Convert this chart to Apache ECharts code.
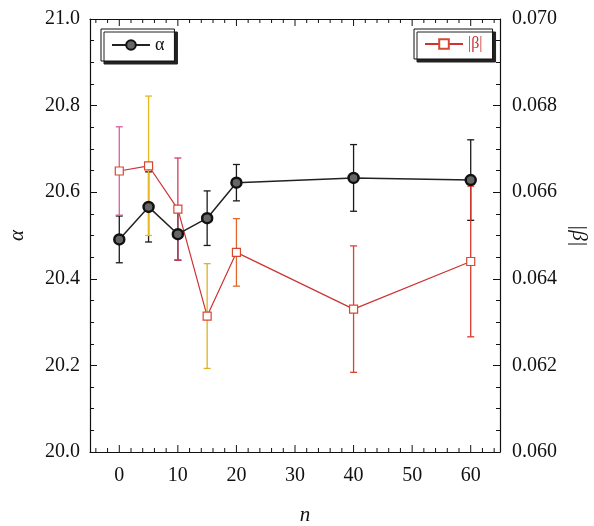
<!DOCTYPE html>
<html>
<head>
<meta charset="utf-8">
<script src="https://cdn.jsdelivr.net/npm/echarts@6/dist/echarts.min.js"></script>
<style>
  html, body { margin: 0; padding: 0; background: #fff; }
  #chart { width: 594px; height: 526px; }
</style>
</head>
<body>
<div id="chart"></div>
<script>
// values
const nValues = [0, 5, 10, 15, 20, 40, 60];
const alpha = [20.491, 20.566, 20.503, 20.540, 20.622, 20.633, 20.628];
const alphaErr = [0.054, 0.081, 0.060, 0.063, 0.042, 0.077, 0.093];
const beta = [0.06649, 0.06661, 0.06561, 0.06314, 0.06461, 0.06330, 0.06440];
const betaErr = [0.00102, 0.00161, 0.00118, 0.00121, 0.00078, 0.00146, 0.00174];
const xMajorTicks = [0, 10, 20, 30, 40, 50, 60];
const xMinorTicks = [-4, -2, 2, 4, 6, 8, 12, 14, 16, 18, 22, 24, 26, 28, 32, 34, 36, 38,
                     42, 44, 46, 48, 52, 54, 56, 58, 62, 64];

const serif = '"Liberation Serif", "DejaVu Serif", serif';
const betaBarColors = ['#d8609a', '#e6b820', '#d83a62', '#e2b024', '#e2672a', '#d8452e', '#d8382a'];

const chart = echarts.init(document.getElementById('chart'));

function errorBar(color, colors) {
    return function (params, api) {
        const x = api.value(0);
        const top = api.coord([x, api.value(2)]);
        const bot = api.coord([x, api.value(1)]);
        const c = colors ? colors[params.dataIndex] : color;
        const style = { stroke: c, lineWidth: 1.3 };
        const w = 3.5;
        return {
            type: 'group',
            children: [
                { type: 'line', shape: { x1: top[0], y1: top[1], x2: bot[0], y2: bot[1] }, style: style },
                { type: 'line', shape: { x1: top[0] - w, y1: top[1], x2: top[0] + w, y2: top[1] }, style: style },
                { type: 'line', shape: { x1: bot[0] - w, y1: bot[1], x2: bot[0] + w, y2: bot[1] }, style: style }
            ]
        };
    };
}

// ticks of the n axis (bottom and top), placed through the x scale
function xTicks(params, api) {
    const v = api.value(0);
    const len = api.value(1) ? 7 : 4;
    const px = api.coord([v, 20])[0];
    const cs = params.coordSys;
    const y0 = cs.y, y1 = cs.y + cs.height;
    const style = { stroke: '#111', lineWidth: 1 };
    return {
        type: 'group',
        children: [
            { type: 'line', shape: { x1: px, y1: y1, x2: px, y2: y1 - len }, style: style },
            { type: 'line', shape: { x1: px, y1: y0, x2: px, y2: y0 + len }, style: style }
        ]
    };
}

const option = {
    backgroundColor: '#ffffff',
    animation: false,
    grid: { left: 90, right: 94, top: 19, bottom: 74, containLabel: false, outerBoundsMode: 'none' },
    legend: [
        {
            data: ['α'], left: 101, top: 29, padding: [7, 10],
            itemWidth: 38, itemHeight: 12, itemGap: 0,
            backgroundColor: '#fff', borderColor: '#111', borderWidth: 1,
            shadowColor: '#222', shadowOffsetX: 3, shadowOffsetY: 3, shadowBlur: 0,
            textStyle: { fontFamily: serif, fontSize: 18, color: '#111' }
        },
        {
            data: ['|β|'], left: 414, top: 29, padding: [7, 10],
            itemWidth: 38, itemHeight: 12, itemGap: 0,
            backgroundColor: '#fff', borderColor: '#111', borderWidth: 1,
            shadowColor: '#222', shadowOffsetX: 3, shadowOffsetY: 3, shadowBlur: 0,
            textStyle: { fontFamily: serif, fontSize: 16, color: '#cc3333' }
        }
    ],
    xAxis: [
        {
            type: 'value', min: -5, max: 65, position: 'bottom',
            name: 'n', nameLocation: 'middle', nameGap: 53,
            nameTextStyle: { fontFamily: serif, fontSize: 21, fontStyle: 'italic', color: '#111', padding: [0, 0, 0, 20] },
            axisLine: { show: true, onZero: false, lineStyle: { color: '#111', width: 1.2 } },
            axisTick: { show: false },
            axisLabel: { show: true, customValues: xMajorTicks, margin: 14, fontFamily: serif, fontSize: 20, color: '#111' },
            splitLine: { show: false }
        },
        {
            type: 'value', min: -5, max: 65, position: 'top',
            axisLine: { show: true, onZero: false, lineStyle: { color: '#111', width: 1.2 } },
            axisTick: { show: false },
            axisLabel: { show: false },
            splitLine: { show: false }
        }
    ],
    yAxis: [
        {
            type: 'value', position: 'left', min: 20, max: 21, interval: 0.2,
            name: 'α', nameLocation: 'middle', nameGap: 62, nameRotate: 90,
            nameTextStyle: { fontFamily: serif, fontSize: 21, fontStyle: 'italic', color: '#111' },
            axisLine: { show: true, onZero: false, lineStyle: { color: '#111', width: 1.2 } },
            axisTick: { show: true, inside: true, length: 7, lineStyle: { color: '#111' } },
            minorTick: { show: true, splitNumber: 4, length: 4, lineStyle: { color: '#111' } },
            axisLabel: { margin: 10, fontFamily: serif, fontSize: 20, color: '#111', formatter: v => v.toFixed(1) },
            splitLine: { show: false }
        },
        {
            type: 'value', position: 'right', min: 0.060, max: 0.070, interval: 0.002,
            name: '|β|', nameLocation: 'middle', nameGap: 52, nameRotate: -90,
            nameTextStyle: { fontFamily: serif, fontSize: 21, fontStyle: 'italic', color: '#111' },
            axisLine: { show: true, onZero: false, lineStyle: { color: '#111', width: 1.2 } },
            axisTick: { show: true, inside: true, length: 7, lineStyle: { color: '#111' } },
            minorTick: { show: true, splitNumber: 4, length: 4, lineStyle: { color: '#111' } },
            axisLabel: { margin: 12, fontFamily: serif, fontSize: 20, color: '#111', formatter: v => v.toFixed(3) },
            splitLine: { show: false }
        }
    ],
    series: [
        {
            name: 'nTicks', type: 'custom', xAxisIndex: 0, yAxisIndex: 0,
            renderItem: xTicks, silent: true, clip: false,
            encode: { x: 0 },
            data: xMajorTicks.map(v => [v, 1]).concat(xMinorTicks.map(v => [v, 0])),
            z: 1
        },
        {
            name: 'alphaErr', type: 'custom', xAxisIndex: 0, yAxisIndex: 0,
            renderItem: errorBar('#1a1a1a'),
            encode: { x: 0, y: [1, 2] },
            data: nValues.map((n, i) => [n, alpha[i] - alphaErr[i], alpha[i] + alphaErr[i]]),
            z: 2
        },
        {
            name: 'betaErr', type: 'custom', xAxisIndex: 0, yAxisIndex: 1,
            renderItem: errorBar(null, betaBarColors),
            encode: { x: 0, y: [1, 2] },
            data: nValues.map((n, i) => [n, beta[i] - betaErr[i], beta[i] + betaErr[i]]),
            z: 3
        },
        {
            name: '|β|', type: 'line', xAxisIndex: 0, yAxisIndex: 1,
            data: nValues.map((n, i) => [n, beta[i]]),
            symbol: 'rect', symbolSize: 8,
            lineStyle: { color: '#cc3333', width: 1.2 },
            itemStyle: { color: '#fff', borderColor: '#d9482e', borderWidth: 1.2 },
            z: 4
        },
        {
            name: 'α', type: 'line', xAxisIndex: 0, yAxisIndex: 0,
            data: nValues.map((n, i) => [n, alpha[i]]),
            symbol: 'circle', symbolSize: 10,
            lineStyle: { color: '#222', width: 1.5 },
            itemStyle: { color: '#666', borderColor: '#111', borderWidth: 2.5 },
            z: 5
        }
    ]
};

chart.setOption(option);
</script>
</body>
</html>
